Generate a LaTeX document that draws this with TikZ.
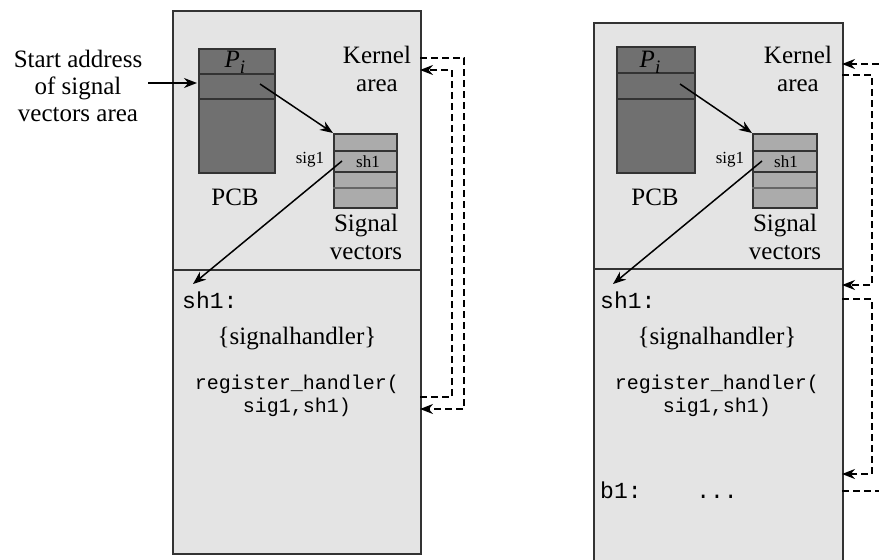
\documentclass[tikz,border=0pt]{standalone}
\usepackage{fontspec}
\setmainfont{Liberation Serif}
\setmonofont{Liberation Mono}
\usetikzlibrary{arrows.meta}
\definecolor{areagray}{HTML}{E4E4E4}
\definecolor{pcbgray}{HTML}{707070}
\definecolor{vecgray}{HTML}{ABABAB}
\definecolor{edge}{HTML}{333333}
\newcommand{\procname}{{\itshape P\raisebox{-6pt}{\fontsize{19}{19}\selectfont i}}}
\tikzset{
  region/.style={draw=edge, line width=1.8pt, fill=areagray, anchor=north west, inner sep=0pt},
  pcbbox/.style={draw=edge, line width=1.8pt, fill=pcbgray, anchor=north west, inner sep=0pt},
  vecbox/.style={draw=edge, line width=1.8pt, fill=vecgray, anchor=north west, inner sep=0pt},
  rowline/.style={draw=edge, line width=1.5pt},
  lbl/.style={font=\fontsize{25}{28}\selectfont, align=center, inner sep=0pt},
  small/.style={font=\fontsize{17}{19}\selectfont, inner sep=0pt},
  code/.style={font=\ttfamily\fontsize{20}{23}\selectfont, align=center, inner sep=0pt},
  codebig/.style={font=\ttfamily\fontsize{23}{26}\selectfont, inner sep=0pt},
  ptr/.style={draw=black, line width=1.5pt, -{Stealth[length=13pt,width=10pt]}},
  call/.style={draw=black, line width=1.8pt, dash pattern=on 7pt off 4pt},
  callarrow/.style={call, -{Stealth[length=13pt,width=10pt]}}
}
\begin{document}
\begin{tikzpicture}[x=1pt,y=-1pt]
\useasboundingbox (0,0) rectangle (879,560);

% ---------------- left memory image ----------------
\node[region, minimum width=248pt, minimum height=259pt] (kerL) at (172,10) {};
\node[region, minimum width=248pt, minimum height=284pt] (usrL) at (172,269) {};

\node[pcbbox, minimum width=76pt, minimum height=124pt] (pcbL) at (198,48) {};
\draw[rowline] (198,74) -- (274,74);
\draw[rowline] (198,99) -- (274,99);
\node[lbl] (piL) at (235,62) {\procname};
\node[lbl] (pcbtL) at (235,197) {PCB};

\node[vecbox, minimum width=63pt, minimum height=74pt] (vecL) at (333,133) {};
\draw[rowline] (333,151) -- (396,151);
\draw[rowline] (333,172) -- (396,172);
\draw[rowline, draw=edge!75, line width=2.4pt] (333,188) -- (396,188);
\node[small] (sigL) at (310,160) {sig1};
\node[small] (shL) at (368,162) {sh1};
\node[lbl] (vectL) at (366,237) {Signal\\vectors};
\node[lbl] (kernL) at (377,69) {Kernel\\area};

\node[lbl, font=\fontsize{25}{27}\selectfont] (start) at (78,86) {Start address\\of signal\\vectors area};

\node[codebig, anchor=west] (labL) at (182,300) {sh1:};
\node[lbl] (handL) at (297,339) {\{signalhandler\}};
\node[code] (regL) at (297,396) {register\_handler(\\sig1,sh1)};

\coordinate (aS) at (148,83);
\coordinate (aE) at (197,83);
\coordinate (pL) at (260,84);
\coordinate (vL) at (333,133);
\coordinate (sL) at (342,161);
\coordinate (hL) at (193,284);
\draw[ptr] (aS) -- (aE);
\draw[ptr] (pL) -- (vL);
\draw[ptr] (sL) -- (hL);

\coordinate (kOutL) at (420,58);
\coordinate (kInL) at (420,70);
\coordinate (rOutL) at (420,397);
\coordinate (rInL) at (420,409);
\draw[callarrow] (kOutL) -- (464,58) -- (464,409) -- (rInL);
\draw[callarrow] (rOutL) -- (452,397) -- (452,70) -- (kInL);

% ---------------- right memory image ----------------
\node[region, minimum width=249pt, minimum height=246pt] (kerR) at (593,22) {};
\node[region, minimum width=249pt, minimum height=320pt] (usrR) at (593,268) {};

\node[pcbbox, minimum width=78pt, minimum height=126pt] (pcbR) at (616,46) {};
\draw[rowline] (616,73) -- (694,73);
\draw[rowline] (616,99) -- (694,99);
\node[lbl] (piR) at (650,62) {\procname};
\node[lbl] (pcbtR) at (655,197) {PCB};

\node[vecbox, minimum width=64pt, minimum height=74pt] (vecR) at (752,133) {};
\draw[rowline] (752,151) -- (816,151);
\draw[rowline] (752,172) -- (816,172);
\draw[rowline, draw=edge!75, line width=2.4pt] (752,188) -- (816,188);
\node[small] (sigR) at (730,160) {sig1};
\node[small] (shR) at (786,162) {sh1};
\node[lbl] (vectR) at (785,237) {Signal\\vectors};
\node[lbl] (kernR) at (798,69) {Kernel\\area};

\node[codebig, anchor=west] (labR) at (600,300) {sh1:};
\node[lbl] (handR) at (717,339) {\{signalhandler\}};
\node[code] (regR) at (717,396) {register\_handler(\\sig1,sh1)};
\node[codebig, anchor=west] (blR) at (600,490) {b1:};
\node[codebig, anchor=base] (dotsR) at (717,498) {...};

\coordinate (pR) at (680,84);
\coordinate (vR) at (752,133);
\coordinate (sR) at (762,161);
\coordinate (hR) at (613,284);
\draw[ptr] (pR) -- (vR);
\draw[ptr] (sR) -- (hR);

\coordinate (inA) at (842,64);
\coordinate (fromA) at (890,64);
\coordinate (outB) at (842,75);
\coordinate (inB) at (842,285);
\coordinate (outC) at (842,299);
\coordinate (inC) at (842,474);
\coordinate (outD) at (842,491);
\coordinate (toD) at (890,491);
\draw[callarrow] (fromA) -- (inA);
\draw[callarrow] (outB) -- (872,75) -- (872,285) -- (inB);
\draw[callarrow] (outC) -- (872,299) -- (872,474) -- (inC);
\draw[call] (outD) -- (toD);
\end{tikzpicture}
\end{document}
